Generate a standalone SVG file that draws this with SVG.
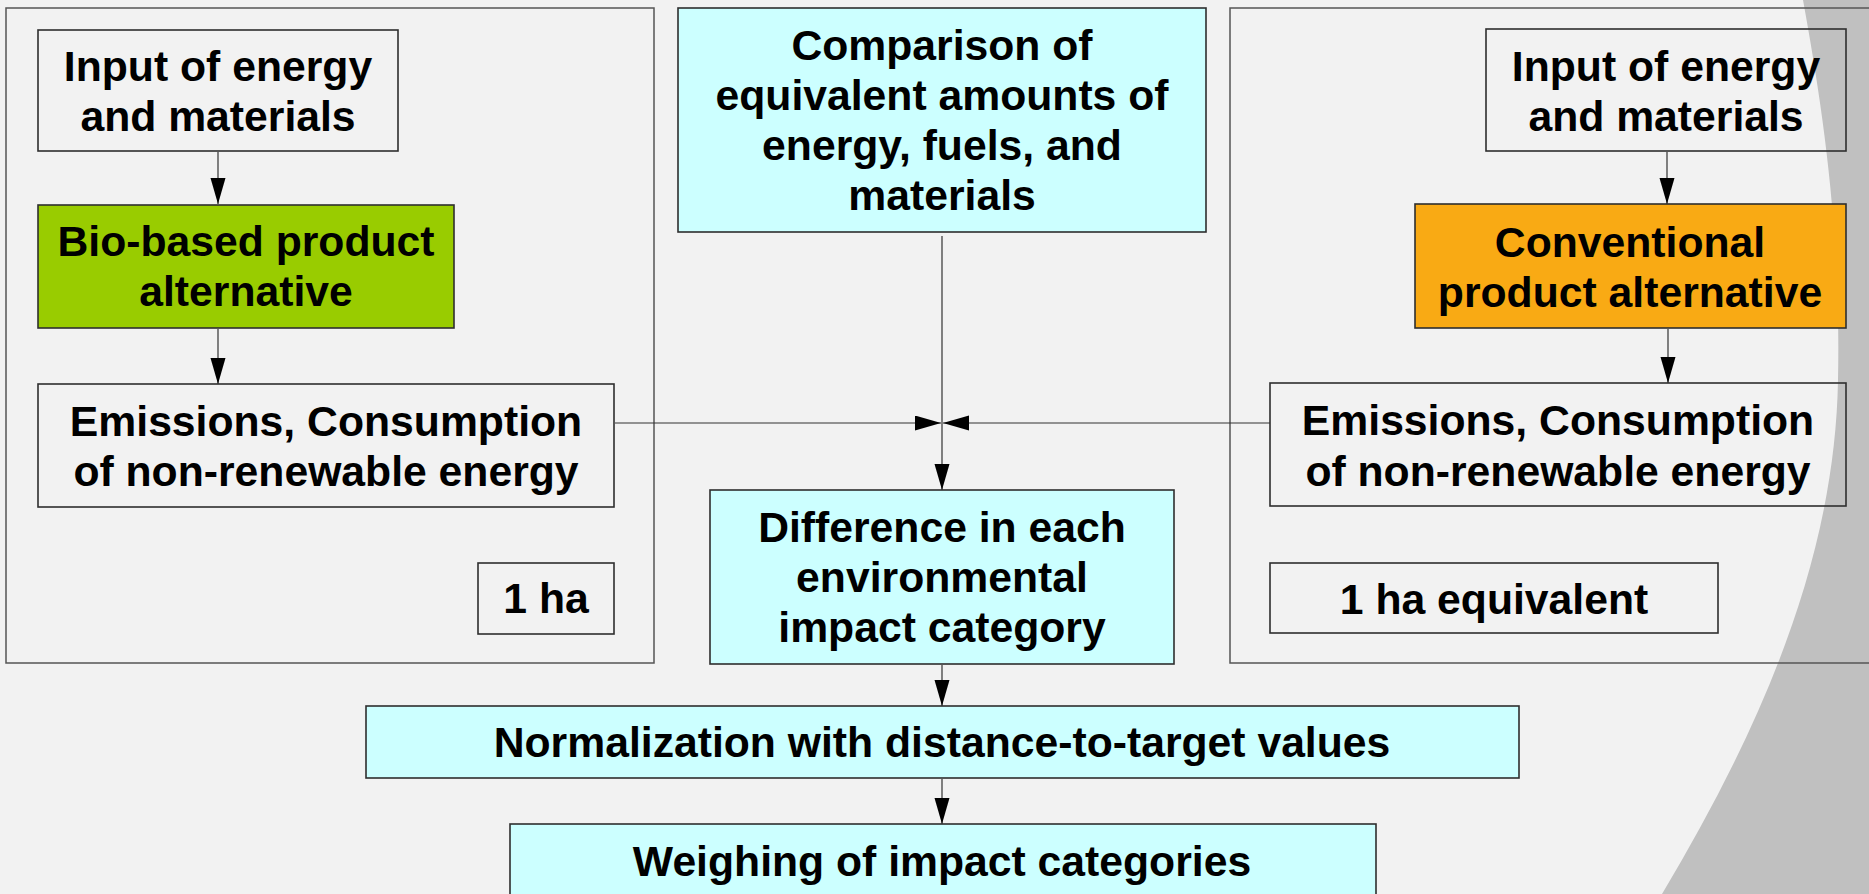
<svg xmlns="http://www.w3.org/2000/svg" width="1869" height="894" viewBox="0 0 1869 894">
<style>
.t{font-family:"Liberation Sans",Arial,sans-serif;font-weight:bold;font-size:42.7px;fill:#000;text-anchor:middle}
.box{stroke:#2e2e2e;stroke-width:1.6}
.plain{fill:none}
.cyan{fill:#ccffff}
.outer{fill:none;stroke:#555;stroke-width:1.5}
.c{stroke:#333;stroke-width:1.2;fill:none}
</style>
<defs>
<marker id="ah" markerUnits="userSpaceOnUse" markerWidth="26" markerHeight="16" refX="26" refY="7.5" orient="auto">
<path d="M0,0 L26,7.5 L0,15 z" fill="#000"/>
</marker>
</defs>
<rect x="0" y="0" width="1869" height="894" fill="#f2f2f2"/>
<path d="M1803,0 C1823,110 1841,230 1838,380 C1835,560 1760,730 1662,894 L1869,894 L1869,0 Z" fill="#c0c0c0"/>

<g id="frame-left"><rect class="outer" x="6" y="8" width="648" height="655"/></g>
<g id="frame-right"><rect class="outer" x="1230" y="8" width="700" height="655"/></g>

<g id="connectors">
<line class="c" x1="218" y1="152" x2="218" y2="204" marker-end="url(#ah)"/>
<line class="c" x1="218" y1="329" x2="218" y2="384" marker-end="url(#ah)"/>
<line class="c" x1="1667" y1="152" x2="1667" y2="204" marker-end="url(#ah)"/>
<line class="c" x1="1668" y1="329" x2="1668" y2="383" marker-end="url(#ah)"/>
<line class="c" x1="615" y1="423" x2="941" y2="423" stroke="#666" marker-end="url(#ah)"/>
<line class="c" x1="1270" y1="423" x2="943" y2="423" stroke="#666" marker-end="url(#ah)"/>
<line class="c" x1="942" y1="236" x2="942" y2="490" marker-end="url(#ah)"/>
<line class="c" x1="942" y1="665" x2="942" y2="706" marker-end="url(#ah)"/>
<line class="c" x1="942" y1="779" x2="942" y2="824" marker-end="url(#ah)"/>
</g>

<g id="input-left">
<rect class="box plain" x="38" y="30" width="360" height="121"/>
<text class="t" x="218" y="81">Input of energy</text>
<text class="t" x="218" y="131">and materials</text>
</g>
<g id="bio">
<rect class="box" fill="#99cc00" x="38" y="205" width="416" height="123"/>
<text class="t" x="246" y="256">Bio-based product</text>
<text class="t" x="246" y="306">alternative</text>
</g>
<g id="emissions-left">
<rect class="box plain" x="38" y="384" width="576" height="123"/>
<text class="t" x="326" y="436">Emissions, Consumption</text>
<text class="t" x="326" y="486">of non-renewable energy</text>
</g>
<g id="ha-left">
<rect class="box plain" x="478" y="563" width="136" height="71"/>
<text class="t" x="546" y="613">1 ha</text>
</g>

<g id="comparison">
<rect class="box cyan" x="678" y="8" width="528" height="224"/>
<text class="t" x="942" y="60">Comparison of</text>
<text class="t" x="942" y="110">equivalent amounts of</text>
<text class="t" x="942" y="160">energy, fuels, and</text>
<text class="t" x="942" y="210">materials</text>
</g>
<g id="difference">
<rect class="box cyan" x="710" y="490" width="464" height="174"/>
<text class="t" x="942" y="542">Difference in each</text>
<text class="t" x="942" y="592">environmental</text>
<text class="t" x="942" y="642">impact category</text>
</g>
<g id="normalization">
<rect class="box cyan" x="366" y="706" width="1153" height="72"/>
<text class="t" x="942" y="757">Normalization with distance-to-target values</text>
</g>
<g id="weighing">
<rect class="box cyan" x="510" y="824" width="866" height="76"/>
<text class="t" x="942" y="876">Weighing of impact categories</text>
</g>

<g id="input-right">
<rect class="box plain" x="1486" y="29" width="360" height="122"/>
<text class="t" x="1666" y="81">Input of energy</text>
<text class="t" x="1666" y="131">and materials</text>
</g>
<g id="conventional">
<rect class="box" fill="#f9aa14" x="1415" y="204" width="431" height="124"/>
<text class="t" x="1630" y="257">Conventional</text>
<text class="t" x="1630" y="307">product alternative</text>
</g>
<g id="emissions-right">
<rect class="box plain" x="1270" y="383" width="576" height="123"/>
<text class="t" x="1558" y="435">Emissions, Consumption</text>
<text class="t" x="1558" y="486">of non-renewable energy</text>
</g>
<g id="ha-right">
<rect class="box plain" x="1270" y="563" width="448" height="70"/>
<text class="t" x="1494" y="614">1 ha equivalent</text>
</g>
</svg>
